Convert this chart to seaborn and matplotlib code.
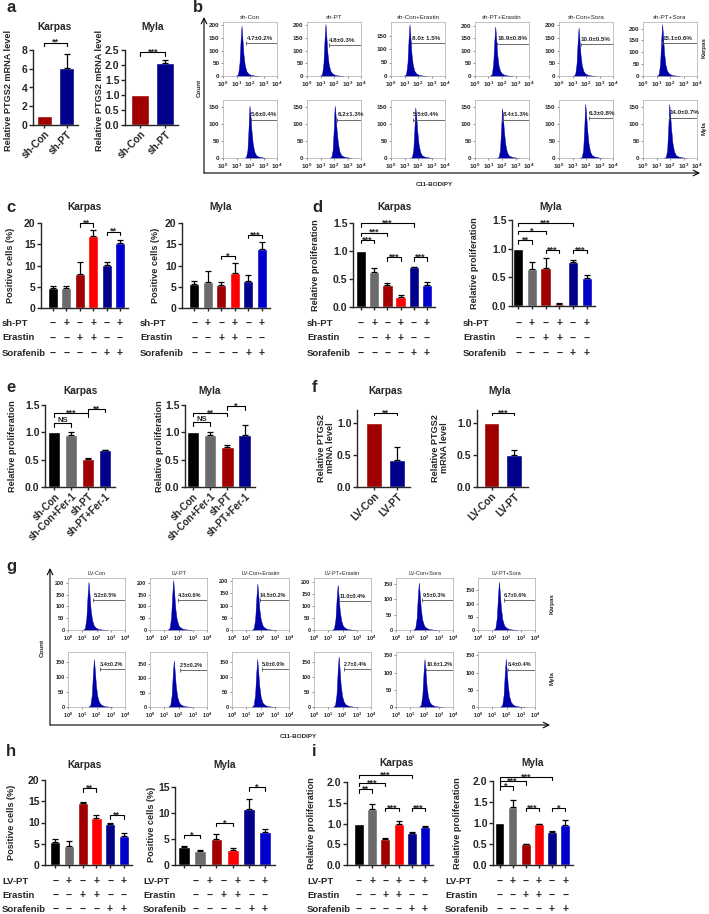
import numpy as np
import pandas as pd
import matplotlib
matplotlib.use('Agg')
import matplotlib.pyplot as plt
import matplotlib.transforms as mtrans
import seaborn as sns

sns.set_style('ticks')
plt.rcParams['font.family'] = ['Liberation Sans', 'DejaVu Sans']
plt.rcParams['font.weight'] = 'bold'
plt.rcParams['mathtext.default'] = 'regular'

# ---------------- data ----------------
C6 = ['#000000', '#6b6b6b', '#a00000', '#ff0000', '#00008b', '#0000cd']
C2 = ['#a00000', '#00008b']
C4 = ['#000000', '#6b6b6b', '#a00000', '#00008b']
FLOW = '#0000a8'

a_names = ['sh-Con', 'sh-PT']
a_karpas = [1.0, 6.1]
a_karpas_err = [0, 1.5]
a_myla = [1.0, 2.08]
a_myla_err = [0, 0.07]

c_karpas = [4.8, 4.8, 8.1, 17.0, 10.1, 15.2]
c_karpas_err = [0.3, 0.4, 2.8, 1.3, 0.7, 0.8]
c_myla = [5.6, 6.2, 5.5, 8.3, 6.3, 14.0]
c_myla_err = [0.8, 2.6, 0.7, 2.3, 1.5, 1.6]

d_karpas = [1.0, 0.62, 0.40, 0.17, 0.71, 0.40]
d_karpas_err = [0, 0.08, 0.02, 0.04, 0.01, 0.05]
d_myla = [1.0, 0.65, 0.67, 0.04, 0.77, 0.49]
d_myla_err = [0, 0.11, 0.16, 0.01, 0.03, 0.05]

e_names = ['sh-Con', 'sh-Con+Fer-1', 'sh-PT', 'sh-PT+Fer-1']
e_karpas = [1.0, 0.95, 0.51, 0.67]
e_karpas_err = [0, 0.06, 0.02, 0.01]
e_myla = [1.0, 0.95, 0.74, 0.95]
e_myla_err = [0, 0.06, 0.03, 0.19]

f_names = ['LV-Con', 'LV-PT']
f_karpas = [1.0, 0.42]
f_karpas_err = [0, 0.2]
f_myla = [1.0, 0.5]
f_myla_err = [0, 0.07]

h_karpas = [5.3, 4.4, 14.6, 11.1, 9.6, 6.8]
h_karpas_err = [0.8, 1.2, 0.2, 0.6, 0.3, 0.8]
h_myla = [3.4, 2.6, 5.0, 2.8, 10.7, 6.4]
h_myla_err = [0.3, 0.3, 1.0, 0.5, 2.0, 0.6]

i_karpas = [1.0, 1.36, 0.62, 1.0, 0.78, 0.92]
i_karpas_err = [0, 0.1, 0.04, 0.07, 0.01, 0.02]
i_myla = [1.0, 1.38, 0.49, 0.97, 0.78, 0.96]
i_myla_err = [0, 0.17, 0.02, 0.01, 0.02, 0.1]

# significance brackets: (from, to, level, text)
a_karpas_sig = [(0, 1, 8.8, '**')]
a_myla_sig = [(0, 1, 2.43, '***')]
c_karpas_sig = [(2, 3, 20.0, '**'), (4, 5, 18.0, '**')]
c_myla_sig = [(2, 3, 12.3, '*'), (4, 5, 17.2, '***')]
d_karpas_sig = [(0, 1, 1.2, '***'), (0, 2, 1.33, '***'), (0, 4, 1.5, '***'),
                (2, 3, 0.89, '***'), (4, 5, 0.89, '***')]
d_myla_sig = [(0, 1, 1.15, '**'), (0, 2, 1.31, '*'), (0, 4, 1.45, '***'),
              (2, 3, 0.98, '***'), (4, 5, 0.98, '***')]
e_karpas_sig = [(0, 1, 1.17, 'NS'), (0, 2, 1.35, '***'), (2, 3, 1.43, '**')]
e_myla_sig = [(0, 1, 1.18, 'NS'), (0, 2, 1.36, '**'), (2, 3, 1.48, '*')]
f_karpas_sig = [(0, 1, 1.16, '**')]
f_myla_sig = [(0, 1, 1.16, '***')]
h_karpas_sig = [(2, 3, 18.1, '**'), (4, 5, 11.7, '**')]
h_myla_sig = [(0, 1, 5.8, '*'), (2, 3, 8.1, '*'), (4, 5, 15.0, '*')]
i_karpas_sig = [(0, 1, 1.83, '**'), (0, 2, 1.98, '***'), (0, 4, 2.17, '***'),
                (2, 3, 1.38, '***'), (4, 5, 1.38, '***')]
i_myla_sig = [(0, 1, 1.88, '*'), (0, 2, 2.0, '***'), (0, 4, 2.1, '***'),
              (2, 3, 1.36, '***'), (4, 5, 1.36, '*')]

treat_pt = ['−', '+', '−', '+', '−', '+']
treat_erastin = ['−', '−', '+', '+', '−', '−']
treat_sora = ['−', '−', '−', '−', '+', '+']

# flow cytometry (b, g): peak position in log10 units, peak count, gate
b_titles = ['sh-Con', 'sh-PT', 'sh-Con+Erastin', 'sh-PT+Erastin', 'sh-Con+Sora', 'sh-PT+Sora']
b_karpas_pct = ['4.7±0.2%', '4.8±0.3%', '8.0± 1.5%', '16.9±0.8%', '10.0±0.5%', '15.1±0.6%']
b_karpas_peak = [1.37, 1.37, 1.37, 1.5, 1.45, 1.42]
b_karpas_count = [197, 204, 192, 197, 190, 219]
b_karpas_ymax = [212, 212, 200, 215, 212, 228]
b_karpas_ytop = [200, 200, 150, 200, 200, 200]
b_karpas_gate_x = [1.72, 1.63, 1.5, 1.63, 1.6, 1.42]
b_karpas_gate_y = [129, 122, 122, 129, 124, 139]
b_myla_pct = ['5.6±0.4%', '6.2±1.3%', '5.5±0.4%', '8.4±1.3%', '6.3±0.8%', '14.0±0.7%']
b_myla_peak = [1.96, 2.05, 1.8, 2.0, 1.94, 1.94]
b_myla_count = [155, 155, 150, 148, 160, 160]
b_myla_ymax = [172, 172, 172, 172, 172, 172]
b_myla_ytop = [150, 150, 150, 150, 150, 150]
b_myla_gate_x = [2.05, 2.25, 1.6, 2.0, 2.2, 1.94]
b_myla_gate_y = [114, 114, 114, 114, 118, 120]

g_titles = ['LV-Con', 'LV-PT', 'LV-Con+Erastin', 'LV-PT+Erastin', 'LV-Con+Sora', 'LV-PT+Sora']
g_karpas_pct = ['5.2±0.5%', '4.3±0.6%', '14.5±0.2%', '11.0±0.4%', '9.5±0.3%', '6.7±0.6%']
g_karpas_peak = [1.44, 1.63, 1.78, 1.66, 1.6, 1.47]
g_karpas_count = [204, 211, 190, 187, 153, 182]
g_karpas_ymax = [220, 220, 213, 215, 168, 197]
g_karpas_ytop = [200, 200, 200, 200, 150, 150]
g_karpas_gate_x = [1.76, 1.94, 1.94, 1.75, 1.85, 1.81]
g_karpas_gate_y = [127, 128, 123, 121, 97, 113]
g_myla_pct = ['3.4±0.2%', '2.5±0.2%', '5.0±0.0%', '2.7±0.4%', '10.6±1.2%', '6.4±0.4%']
g_myla_peak = [1.82, 1.67, 1.77, 1.73, 2.0, 1.95]
g_myla_count = [161, 161, 161, 170, 140, 140]
g_myla_ymax = [185, 190, 185, 185, 160, 160]
g_myla_ytop = [150, 150, 150, 150, 150, 150]
g_myla_gate_x = [2.24, 2.1, 2.1, 2.1, 2.1, 2.1]
g_myla_gate_y = [127, 127, 127, 127, 109, 109]

# histogram outline read from the peaks (offset in log10, relative count)
prof_off = [-0.4, -0.25, -0.15, -0.07, 0.0, 0.06, 0.14, 0.24, 0.36, 0.5, 0.7, 1.0, 1.3]
prof_karpas = [0.0, 0.04, 0.25, 0.7, 1.0, 0.78, 0.45, 0.22, 0.1, 0.05, 0.02, 0.008, 0.0]
prof_myla = [0.0, 0.02, 0.15, 0.55, 1.0, 0.85, 0.55, 0.28, 0.12, 0.05, 0.025, 0.01, 0.0]

# ---------------- figure ----------------
W, H = 709, 914
fig = plt.figure(figsize=(W / 100, H / 100), dpi=100)

TICK_FS = 7.5
LAB_FS = 6.6
TITLE_FS = 7.3
TAB_FS = 6.8


def box(l, t, r, b):
    return fig.add_axes([l / W, 1 - b / H, (r - l) / W, (b - t) / H])


def label(x, y, s, **kw):
    kw.setdefault('ha', 'center')
    kw.setdefault('va', 'center')
    fig.text(x / W, 1 - y / H, s, **kw)


def bar_panel(pos, names, vals, errs, colors, xlim, yticks, ylabs, sigs, width=0.75):
    ax = box(*pos)
    df = pd.DataFrame({'grp': names, 'val': vals})
    sns.barplot(data=df, x='grp', y='val', hue='grp', palette=colors, legend=False,
                width=width, errorbar=None, saturation=1, ax=ax)
    n = len(vals)
    x = np.arange(n)
    e = np.array(errs)
    keep = e > 0
    ax.errorbar(x[keep], np.array(vals)[keep], yerr=[np.zeros(keep.sum()), e[keep]],
                fmt='none', ecolor='black', elinewidth=0.9, capsize=2, capthick=0.9)
    ax.set_xlim(*xlim)
    ax.set_ylim(yticks[0], yticks[-1])
    ax.set_yticks(yticks, ylabs)
    ax.set_xlabel('')
    ax.set_ylabel('')
    sns.despine(ax=ax)
    for sp in ax.spines.values():
        sp.set_linewidth(1.0)
    ax.tick_params(axis='y', labelsize=TICK_FS, length=3, width=1, pad=1)
    ax.tick_params(axis='x', length=2, width=1, pad=1)
    # brackets
    px = (yticks[-1] - yticks[0]) / (pos[3] - pos[1])
    for a0, a1, lev, txt in sigs:
        ax.plot([a0, a0, a1, a1], [lev - 3.5 * px, lev, lev, lev - 3.5 * px],
                color='black', lw=0.8, clip_on=False)
        off = 1.0 if txt == 'NS' else -1.8
        ax.annotate(txt, xy=((a0 + a1) / 2, lev), xytext=(0, off), textcoords='offset points',
                    ha='center', va='baseline', fontsize=6.5 if txt != 'NS' else 5.5,
                    annotation_clip=False)
    return ax


def rot_labels(ax, names, fs=7):
    ax.set_xticks(range(len(names)), names, rotation=45, ha='right',
                  rotation_mode='anchor', fontsize=fs)


def sign_table(ax, lab_x, rows_y, names, rows, px=None):
    ax.set_xticks(range(len(rows[0])), [''] * len(rows[0]))
    tr = mtrans.blended_transform_factory(ax.transData, fig.transFigure)
    for nm, signs, y in zip(names, rows, rows_y):
        label(lab_x, y, nm, fontsize=TAB_FS, ha='left')
        for k, s in enumerate(signs):
            if px is None:
                ax.text(k, 1 - y / H, s, transform=tr, ha='center', va='center', fontsize=7.5)
            else:
                label(px[0] + px[1] * k, y, s, fontsize=7.5)


def flow_panel(pos, peak, count, ymax, ytop, gx, gy, pct, prof, fs, title):
    ax = box(*pos)
    xs = 10 ** (peak + np.array(prof_off))
    ax.fill_between(xs, np.array(prof) * count, color=FLOW, lw=0.3, edgecolor=FLOW)
    ax.set_xscale('log')
    ax.set_xlim(1, 1e4)
    ax.set_ylim(0, ymax)
    ax.set_xticks([1, 10, 100, 1000, 10000],
                  ['$10^0$', '$10^1$', '$10^2$', '$10^3$', '$10^4$'])
    ax.xaxis.set_minor_locator(matplotlib.ticker.NullLocator())
    ax.set_yticks(np.arange(0, ytop + 1, 50))
    g0 = 10 ** gx
    ax.plot([g0, 9.6e3], [gy, gy], color='#555555', lw=0.6)
    ax.vlines([g0, 9.6e3], gy - 0.035 * ymax, gy + 0.035 * ymax, color='#555555', lw=0.6)
    ax.text(g0 * 1.05, gy + 0.04 * ymax, pct, ha='left', va='bottom', fontsize=fs)
    for sp in ax.spines.values():
        sp.set_color('#aaaaaa')
        sp.set_linewidth(0.5)
    ax.tick_params(labelsize=fs, length=1.5, width=0.5, pad=1, color='#666666')
    if title:
        ax.set_title(title, fontsize=fs, pad=2)
    return ax


# overlay for frame arrows
ov = fig.add_axes([0, 0, 1, 1])
ov.set_xlim(0, W)
ov.set_ylim(H, 0)
ov.axis('off')
arrow = dict(arrowstyle='->', lw=0.8, color='black', shrinkA=0, shrinkB=0)
ov.annotate('', xy=(204, 17), xytext=(204, 173), arrowprops=arrow)
ov.annotate('', xy=(700, 173), xytext=(204, 173), arrowprops=arrow)
ov.annotate('', xy=(50, 568), xytext=(50, 725), arrowprops=arrow)
ov.annotate('', xy=(550, 725), xytext=(50, 725), arrowprops=arrow)

# panel letters
for s, x, y in [('a', 6, 8), ('b', 193, 8), ('c', 6, 208), ('d', 312, 208), ('e', 6, 387),
                ('f', 312, 387), ('g', 6, 566), ('h', 6, 752), ('i', 312, 752)]:
    label(x, y, s, fontsize=12, ha='left')

# ---- a ----
yt = [0, 2, 4, 6, 8]
ax = bar_panel((33, 50, 78, 125), a_names, a_karpas, a_karpas_err, C2, (-0.5, 1.5),
               yt, [str(v) for v in yt], a_karpas_sig, width=0.68)
rot_labels(ax, a_names, 7.3)
yt = [0, 0.5, 1.0, 1.5, 2.0, 2.5]
ax = bar_panel((125, 50, 178, 125), a_names, a_myla, a_myla_err, C2, (-0.6, 1.5),
               yt, ['%.1f' % v for v in yt], a_myla_sig, width=0.72)
rot_labels(ax, a_names, 7.3)
label(55, 27, 'Karpas', fontsize=TITLE_FS)
label(153, 27, 'Myla', fontsize=TITLE_FS)
label(9, 90, 'Relative PTGS2 mRNA level', rotation=90, fontsize=LAB_FS)
label(99, 90, 'Relative PTGS2 mRNA level', rotation=90, fontsize=LAB_FS)

# ---- b ----
for k in range(6):
    l = 223 + 84 * k
    flow_panel((l, 22, l + 54, 76), b_karpas_peak[k], b_karpas_count[k], b_karpas_ymax[k],
               b_karpas_ytop[k], b_karpas_gate_x[k], b_karpas_gate_y[k], b_karpas_pct[k],
               prof_karpas, 4.5, b_titles[k])
    flow_panel((l, 100, l + 54, 158), b_myla_peak[k], b_myla_count[k], b_myla_ymax[k],
               b_myla_ytop[k], b_myla_gate_x[k], b_myla_gate_y[k], b_myla_pct[k],
               prof_myla, 4.5, None)
label(199, 88, 'Count', rotation=90, fontsize=4.5)
label(434, 184, 'C11-BODIPY', fontsize=4.5)
label(704, 48, 'Karpas', rotation=90, fontsize=4.5)
label(704, 128, 'Myla', rotation=90, fontsize=4.5)

# ---- c ----
tr_names = ['sh-PT', 'Erastin', 'Sorafenib']
tr_rows = [treat_pt, treat_erastin, treat_sora]
yt = [0, 5, 10, 15, 20]
ax = bar_panel((41, 223, 128, 308), list('012345'), c_karpas, c_karpas_err, C6, (-0.9, 5.6),
               yt, [str(v) for v in yt], c_karpas_sig)
sign_table(ax, 2, [323, 338, 353], tr_names, tr_rows)
ax = bar_panel((182, 223, 270, 308), list('012345'), c_myla, c_myla_err, C6, (-0.9, 5.6),
               yt, [str(v) for v in yt], c_myla_sig)
sign_table(ax, 140, [323, 338, 353], tr_names, tr_rows)
label(85, 207, 'Karpas', fontsize=TITLE_FS)
label(221, 207, 'Myla', fontsize=TITLE_FS)
label(11, 265, 'Positive cells (%)', rotation=90, fontsize=LAB_FS)
label(156, 265, 'Positive cells (%)', rotation=90, fontsize=LAB_FS)

# ---- d ----
yt = [0, 0.5, 1.0, 1.5]
ax = bar_panel((353, 223, 435, 307), list('012345'), d_karpas, d_karpas_err, C6, (-0.6, 5.6),
               yt, ['%.1f' % v for v in yt], d_karpas_sig, width=0.8)
sign_table(ax, 307, [323, 338, 353], tr_names, tr_rows)
ax = bar_panel((512, 220, 595, 306), list('012345'), d_myla, d_myla_err, C6, (-0.45, 5.6),
               yt, ['%.1f' % v for v in yt], d_myla_sig, width=0.75)
sign_table(ax, 463, [323, 338, 353], tr_names, tr_rows)
label(395, 207, 'Karpas', fontsize=TITLE_FS)
label(551, 207, 'Myla', fontsize=TITLE_FS)
label(316, 265, 'Relative proliferation', rotation=90, fontsize=LAB_FS)
label(475, 263, 'Relative proliferation', rotation=90, fontsize=LAB_FS)

# ---- e ----
ax = bar_panel((45, 405, 115, 487), e_names, e_karpas, e_karpas_err, C4, (-0.55, 3.6),
               yt, ['%.1f' % v for v in yt], e_karpas_sig, width=0.72)
rot_labels(ax, e_names)
ax = bar_panel((185, 405, 255, 487), e_names, e_myla, e_myla_err, C4, (-0.45, 3.6),
               yt, ['%.1f' % v for v in yt], e_myla_sig, width=0.72)
rot_labels(ax, e_names)
label(80, 391, 'Karpas', fontsize=TITLE_FS)
label(210, 391, 'Myla', fontsize=TITLE_FS)
label(13, 446, 'Relative proliferation', rotation=90, fontsize=LAB_FS)
label(160, 446, 'Relative proliferation', rotation=90, fontsize=LAB_FS)

# ---- f ----
yt = [0, 0.5, 1.0]
for pos, vals, errs, xl, sig in [((357, 410, 410, 487), f_karpas, f_karpas_err, (-0.75, 1.55), f_karpas_sig),
                                 ((477, 410, 528, 487), f_myla, f_myla_err, (-0.65, 1.62), f_myla_sig)]:
    ax = bar_panel(pos, f_names, vals, errs, C2, xl, yt, ['%.1f' % v for v in yt], sig, width=0.68)
    ax.set_ylim(0, 1.2)
    rot_labels(ax, f_names, 7.3)
label(385, 391, 'Karpas', fontsize=TITLE_FS)
label(500, 391, 'Myla', fontsize=TITLE_FS)
label(326, 448, 'Relative PTGS2\nmRNA level', rotation=90, fontsize=LAB_FS, linespacing=1.0)
label(440, 448, 'Relative PTGS2\nmRNA level', rotation=90, fontsize=LAB_FS, linespacing=1.0)

# ---- g ----
for k in range(6):
    l = 68 + 82 * k
    flow_panel((l, 578, l + 57, 630), g_karpas_peak[k], g_karpas_count[k], g_karpas_ymax[k],
               g_karpas_ytop[k], g_karpas_gate_x[k], g_karpas_gate_y[k], g_karpas_pct[k],
               prof_karpas, 4, g_titles[k])
    flow_panel((l, 652, l + 57, 707), g_myla_peak[k], g_myla_count[k], g_myla_ymax[k],
               g_myla_ytop[k], g_myla_gate_x[k], g_myla_gate_y[k], g_myla_pct[k],
               prof_karpas, 4, None)
label(42, 648, 'Count', rotation=90, fontsize=4.5)
label(298, 737, 'C11-BODIPY', fontsize=4.5)
label(552, 604, 'Karpas', rotation=90, fontsize=4.5)
label(552, 678, 'Myla', rotation=90, fontsize=4.5)

# ---- h ----
tr_names = ['LV-PT', 'Erastin', 'Sorafenib']
yt = [0, 5, 10, 15, 20]
ax = bar_panel((45, 780, 132, 865), list('012345'), h_karpas, h_karpas_err, C6, (-0.75, 5.6),
               yt, [str(v) for v in yt], h_karpas_sig)
sign_table(ax, 2, [881, 895, 909], tr_names, tr_rows)
yt = [0, 5, 10, 15]
ax = bar_panel((175, 787, 275, 865), list('012345'), h_myla, h_myla_err, C6, (-0.55, 5.6),
               yt, [str(v) for v in yt], h_myla_sig, width=0.72)
sign_table(ax, 143, [881, 895, 909], tr_names, tr_rows, px=(196, 13.8))
label(85, 765, 'Karpas', fontsize=TITLE_FS)
label(225, 765, 'Myla', fontsize=TITLE_FS)
label(12, 822, 'Positive cells (%)', rotation=90, fontsize=LAB_FS)
label(151, 824, 'Positive cells (%)', rotation=90, fontsize=LAB_FS)

# ---- i ----
yt = [0, 0.5, 1.0, 1.5, 2.0]
ax = bar_panel((347, 782, 433, 865), list('012345'), i_karpas, i_karpas_err, C6, (-0.9, 5.6),
               yt, ['%.1f' % v for v in yt], i_karpas_sig, width=0.75)
sign_table(ax, 307, [881, 895, 909], tr_names, tr_rows)
ax = bar_panel((493, 781, 573, 865), list('012345'), i_myla, i_myla_err, C6, (-0.5, 5.6),
               yt, ['%.1f' % v for v in yt], i_myla_sig, width=0.72)
sign_table(ax, 445, [881, 895, 909], tr_names, tr_rows)
label(397, 763, 'Karpas', fontsize=TITLE_FS)
label(533, 763, 'Myla', fontsize=TITLE_FS)
label(312, 823, 'Relative proliferation', rotation=90, fontsize=LAB_FS)
label(457, 823, 'Relative proliferation', rotation=90, fontsize=LAB_FS)

fig.savefig('out.png', dpi=100)
